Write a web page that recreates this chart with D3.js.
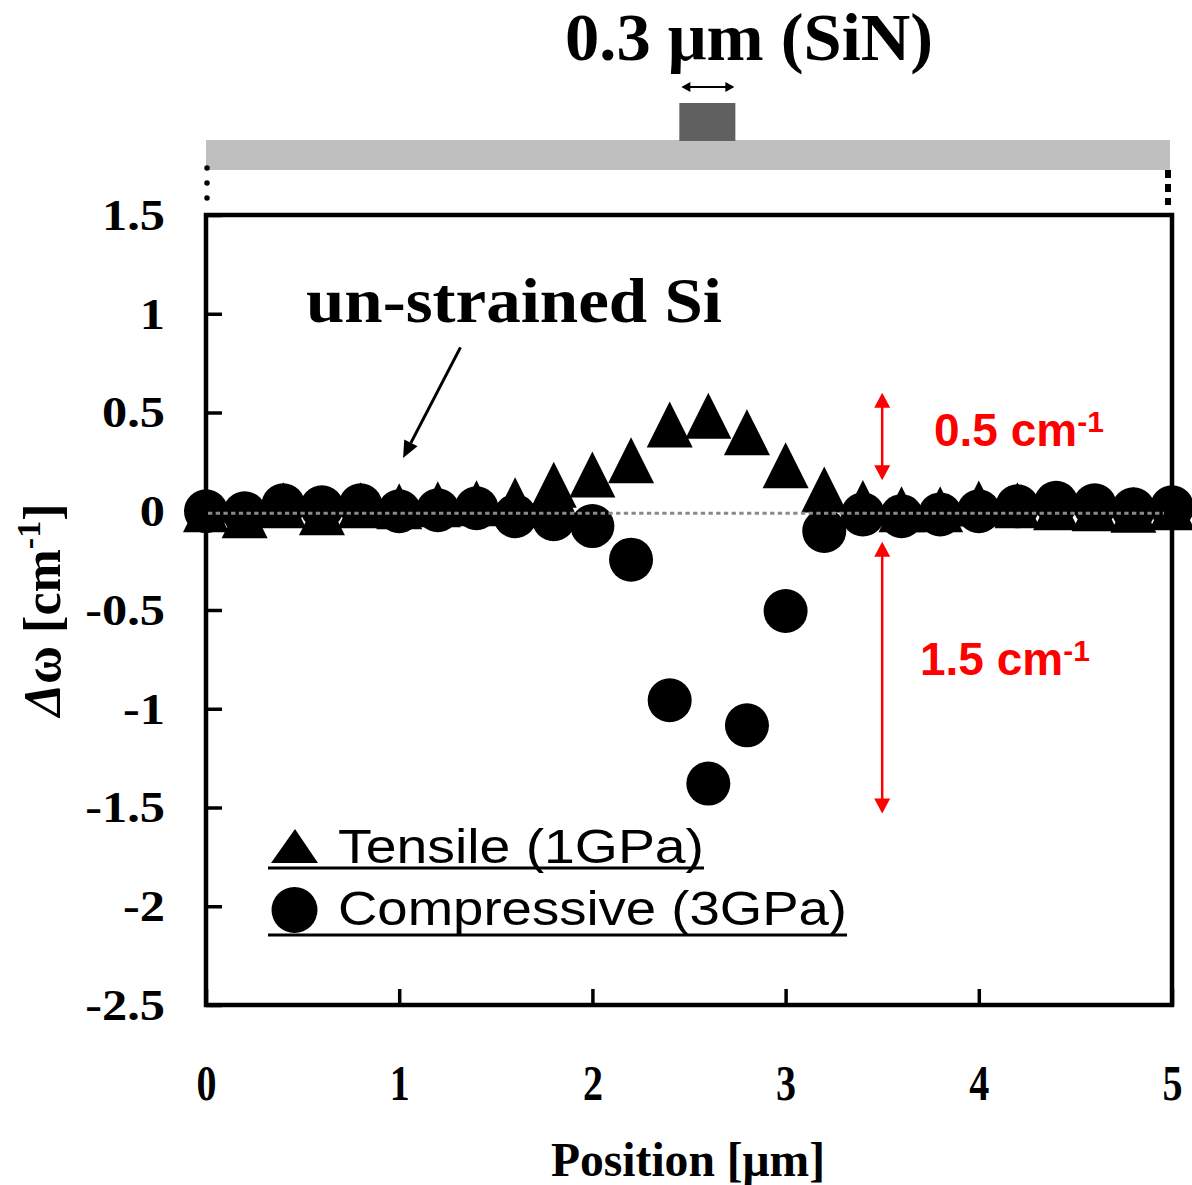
<!DOCTYPE html>
<html><head><meta charset="utf-8">
<script src="https://cdn.jsdelivr.net/npm/d3@7"></script>
<style>html,body{margin:0;padding:0;background:#fff;} svg{display:block;}</style>
</head><body>
<script>
// ---- data ----
const positions = [0,0.2,0.4,0.6,0.8,1.0,1.2,1.4,1.6,1.8,2.0,2.2,2.4,2.6,2.8,3.0,3.2,3.4,3.6,3.8,4.0,4.2,4.4,4.6,4.8,5.0];
const tensile = [0.01,-0.02,0.03,-0.005,0.03,0.025,0.035,0.04,0.056,0.134,0.186,0.258,0.439,0.483,0.40,0.233,0.11,0.042,0.01,0.01,0.039,0.03,0.02,0.015,0.008,0.02];
const compressive = [0.0,-0.01,0.03,0.02,0.03,0.0,0.005,0.015,-0.025,-0.04,-0.075,-0.245,-0.957,-1.379,-1.084,-0.505,-0.10,-0.016,-0.025,-0.016,0.0,0.025,0.043,0.03,0.01,0.02];
const yTicks = [-2.5,-2,-1.5,-1,-0.5,0,0.5,1,1.5];
const yTickLabels = ["-2.5","-2","-1.5","-1","-0.5","0","0.5","1","1.5"];
const xTicks = [0,1,2,3,4,5];
const xTickLabels = ["0","1","2","3","4","5"];
const legendLabels = ["Tensile (1GPa)","Compressive (3GPa)"];
const spanArrows = [{x:3.5, from:0.6, to:0.157, label:"0.5 cm", lx:934, ly:446},
                    {x:3.5, from:-0.155, to:-1.53, label:"1.5 cm", lx:920, ly:675}];
const sinBlock = [2.45, 2.74];

const W=1192, H=1185;
const svg = d3.select("body").append("svg").attr("width",W).attr("height",H);
const x = d3.scaleLinear().domain([0,5]).range([206,1172]);
const y = d3.scaleLinear().domain([-2.5,1.5]).range([1005,215]);
const SERIF = "'Liberation Serif','Times New Roman',serif";
const SANS = "'Liberation Sans',Arial,sans-serif";

// ---- top schematic ----
svg.append("rect").attr("x",x(0)).attr("y",140).attr("width",x(5)-x(0)-2).attr("height",30).attr("fill","#bfbfbf");
svg.append("rect").attr("x",x(sinBlock[0])).attr("y",103).attr("width",x(sinBlock[1])-x(sinBlock[0])).attr("height",38).attr("fill","#606060");
const ax0 = x(sinBlock[0])+2, ax1 = x(sinBlock[1])-1, ay=87;
svg.append("line").attr("x1",ax0+6).attr("x2",ax1-6).attr("y1",ay).attr("y2",ay).attr("stroke","#000").attr("stroke-width",2);
svg.append("path").attr("d",`M${ax0},${ay} l9,-5 l0,10 Z M${ax1},${ay} l-9,-5 l0,10 Z`).attr("fill","#000");
svg.append("text").attr("x",749).attr("y",60).attr("text-anchor","middle")
  .attr("font-family",SERIF).attr("font-weight","bold").attr("font-size",68)
  .attr("textLength",368).attr("lengthAdjust","spacingAndGlyphs").text("0.3 μm (SiN)");
svg.append("line").attr("x1",x(0)+1).attr("x2",x(0)+1).attr("y1",168).attr("y2",202)
  .attr("stroke","#000").attr("stroke-width",5.5).attr("stroke-linecap","round").attr("stroke-dasharray","0 15");
svg.append("line").attr("x1",x(5)-4).attr("x2",x(5)-4).attr("y1",170).attr("y2",205)
  .attr("stroke","#000").attr("stroke-width",6).attr("stroke-dasharray","8 6");

// ---- frame ----
svg.append("rect").attr("x",x(0)).attr("y",y(1.5)).attr("width",x(5)-x(0)).attr("height",y(-2.5)-y(1.5))
  .attr("fill","none").attr("stroke","#000").attr("stroke-width",4.5);

// ---- axes ----
const yScaleX = 1.12;
const gy = svg.append("g").attr("transform",`translate(${x(0)},0)`)
  .call(d3.axisLeft(y).tickValues(yTicks).tickSize(-16).tickPadding(41).tickFormat((d,i)=>yTickLabels[i]));
gy.select(".domain").remove();
gy.selectAll(".tick line").attr("stroke","#000").attr("stroke-width",3.5);
gy.selectAll(".tick text").attr("font-family",SERIF).attr("font-weight","bold").attr("font-size",45).attr("fill","#000")
  .attr("x",-41/yScaleX).attr("transform",`scale(${yScaleX},1)`);

const gx = svg.append("g").attr("transform",`translate(0,${y(-2.5)})`)
  .call(d3.axisBottom(x).tickValues(xTicks).tickSize(-16).tickPadding(60).tickFormat((d,i)=>xTickLabels[i]));
gx.select(".domain").remove();
gx.selectAll(".tick line").attr("stroke","#000").attr("stroke-width",3.5);
gx.selectAll(".tick text").attr("font-family",SERIF).attr("font-weight","bold").attr("font-size",50).attr("fill","#000")
  .attr("transform","scale(0.8,1)");

svg.append("text").attr("x",688).attr("y",1176).attr("text-anchor","middle")
  .attr("font-family",SERIF).attr("font-weight","bold").attr("font-size",48)
  .attr("textLength",274).attr("lengthAdjust","spacingAndGlyphs").text("Position [μm]");

const yl = svg.append("text").attr("transform","translate(60,610) rotate(-90)").attr("text-anchor","middle")
  .attr("font-family",SERIF).attr("font-weight","bold").attr("font-size",52);
yl.append("tspan").attr("font-style","italic").text("Δ");
yl.append("tspan").text("ω [cm");
yl.append("tspan").attr("font-size",34).attr("dy",-20).text("-1");
yl.append("tspan").attr("dy",20).text("]");

// ---- data markers ----
const pts = positions.map((p,i)=>({p, t:tensile[i], c:compressive[i]}));
svg.append("g").selectAll("path").data(pts).join("path")
  .attr("d","M0,-23 L23,23 L-23,23 Z")
  .attr("transform",d=>`translate(${x(d.p)},${y(d.t)})`).attr("fill","#000");
svg.append("g").selectAll("circle").data(pts).join("circle")
  .attr("cx",d=>x(d.p)).attr("cy",d=>y(d.c)).attr("r",22).attr("fill","#000");

svg.append("line").attr("x1",x(0)+2).attr("x2",x(5)-8).attr("y1",y(0)+2).attr("y2",y(0)+2)
  .attr("stroke","#8a8a8a").attr("stroke-width",3).attr("stroke-dasharray","4.3 3.4");

// ---- annotations ----
svg.append("text").attr("x",306).attr("y",322).attr("font-family",SERIF).attr("font-weight","bold").attr("font-size",64)
  .attr("textLength",416).attr("lengthAdjust","spacingAndGlyphs").text("un-strained Si");
{
  const x1 = x(1.317), y1 = y(0.83), x2 = x(1.02), y2 = y(0.27);
  const ang = Math.atan2(y2-y1, x2-x1);
  const hl = 17, hw = 7.5;
  const bx = x2 - hl*Math.cos(ang), by = y2 - hl*Math.sin(ang);
  svg.append("line").attr("x1",x1).attr("y1",y1).attr("x2",bx).attr("y2",by).attr("stroke","#000").attr("stroke-width",3);
  svg.append("path").attr("d",`M${x2},${y2} L${bx+hw*Math.sin(ang)},${by-hw*Math.cos(ang)} L${bx-hw*Math.sin(ang)},${by+hw*Math.cos(ang)} Z`).attr("fill","#000");
}
spanArrows.forEach(a=>{
  const ax = x(a.x), yt = y(a.from), yb = y(a.to);
  svg.append("line").attr("x1",ax).attr("x2",ax).attr("y1",yt+12).attr("y2",yb-12).attr("stroke","#ff0000").attr("stroke-width",2.5);
  svg.append("path").attr("d",`M${ax},${yt} l8,15 l-16,0 Z M${ax},${yb} l8,-15 l-16,0 Z`).attr("fill","#ff0000");
  const t = svg.append("text").attr("x",a.lx).attr("y",a.ly).attr("font-family",SANS).attr("font-weight","bold")
    .attr("font-size",46).attr("fill","#ff0000");
  t.append("tspan").text(a.label);
  t.append("tspan").attr("font-size",30).attr("dy",-14).text("-1");
});

// ---- legend ----
svg.append("path").attr("d","M295,829 L318,863 L271,863 Z").attr("fill","#000");
svg.append("circle").attr("cx",294.5).attr("cy",910).attr("r",23).attr("fill","#000");
svg.append("text").attr("x",338).attr("y",863).attr("font-family",SANS).attr("font-size",48)
  .attr("textLength",366).attr("lengthAdjust","spacingAndGlyphs").text(legendLabels[0]);
svg.append("text").attr("x",338).attr("y",925).attr("font-family",SANS).attr("font-size",48)
  .attr("textLength",509).attr("lengthAdjust","spacingAndGlyphs").text(legendLabels[1]);
svg.append("line").attr("x1",268).attr("x2",704).attr("y1",868).attr("y2",868).attr("stroke","#000").attr("stroke-width",3);
svg.append("line").attr("x1",268).attr("x2",847).attr("y1",935).attr("y2",935).attr("stroke","#000").attr("stroke-width",3);
</script>
</body></html>
